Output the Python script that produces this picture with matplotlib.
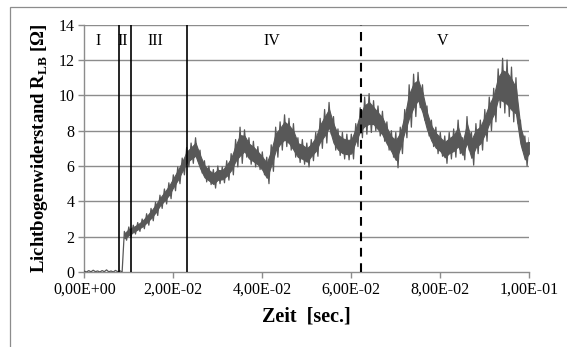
import numpy as np
import matplotlib.pyplot as plt
from matplotlib.patches import Rectangle

# resistance envelope, one value per millisecond
# (upper and lower edge of the noisy band)
r_hi = [0.05, 0.08, 0.10, 0.06, 0.08, 0.12, 0.06, 0.09, 0.07, 2.30,
        2.55, 2.65, 2.80, 3.00, 3.30, 3.60, 3.95, 4.35, 4.70, 5.05,
        5.50, 5.95, 6.45, 7.05, 7.30, 7.60, 6.90, 6.30, 6.00, 5.80,
        6.00, 5.95, 6.30, 6.70, 7.50, 8.20, 8.05, 7.60, 7.40, 7.10,
        6.80, 6.50, 7.20, 8.20, 8.50, 8.90, 8.70, 8.40, 7.60, 7.50,
        7.30, 7.50, 7.90, 8.70, 9.20, 9.60, 8.80, 8.10, 7.90, 7.80,
        7.80, 8.40, 9.30, 9.90, 10.10, 9.70, 9.40, 9.10, 8.50, 8.00,
        7.90, 8.20, 9.20, 10.60, 11.20, 11.30, 10.60, 9.40, 8.60, 8.20,
        7.90, 7.70, 7.90, 8.10, 8.60, 7.60, 8.80, 7.90, 8.40, 8.60,
        9.20, 9.90, 10.40, 11.50, 12.10, 12.00, 11.60, 11.00, 8.60, 7.70,
        7.60]
r_lo = [0.00, 0.01, 0.02, 0.00, 0.02, 0.01, 0.00, 0.02, 0.00, 1.80,
        1.95, 2.15, 2.30, 2.45, 2.65, 2.90, 3.20, 3.60, 3.85, 4.15,
        4.60, 5.00, 5.50, 5.95, 6.15, 6.30, 5.60, 5.10, 4.95, 4.75,
        5.00, 5.05, 5.20, 5.50, 5.95, 6.15, 6.50, 6.10, 5.95, 5.80,
        5.50, 5.00, 5.70, 6.50, 6.90, 7.10, 6.90, 6.50, 6.20, 6.10,
        5.95, 6.30, 6.55, 7.00, 7.30, 7.80, 6.90, 6.60, 6.40, 6.35,
        6.40, 7.10, 7.60, 7.80, 7.90, 8.00, 7.70, 7.40, 6.90, 6.50,
        5.90, 6.70, 7.60, 8.20, 8.80, 9.30, 8.60, 7.70, 7.10, 6.70,
        6.55, 6.15, 6.40, 6.50, 6.70, 6.35, 6.90, 6.05, 6.70, 6.90,
        7.40, 8.00, 8.50, 9.30, 9.00, 8.80, 8.50, 8.40, 6.90, 6.00,
        6.50]
dt = 0.001

# phase boundaries and labels
phase_lines = [0.0077, 0.0104, 0.0231]
dashed_line = 0.0621
phase_names = ['I', 'II', 'III', 'IV', 'V']
phase_pos = [0.0031, 0.0087, 0.0159, 0.0421, 0.0806]

xticks = [0.0, 0.02, 0.04, 0.06, 0.08, 0.10]
xticklabels = ['0,00E+00', '2,00E-02', '4,00E-02', '6,00E-02', '8,00E-02', '1,00E-01']
yticks = [0, 2, 4, 6, 8, 10, 12, 14]

# zig-zag between upper and lower edge
t_grid = np.arange(len(r_hi)) * dt
hi = np.array(r_hi)
lo = np.array(r_lo)
t = []
r = []
for i in range(len(r_hi)):
    t.append(i * dt)
    r.append(r_hi[i])
    t.append(i * dt + dt / 2)
    r.append(r_lo[i])
t = np.array(t[:-1])
r = np.array(r[:-1])

plt.rcParams['font.family'] = 'Liberation Serif'
plt.rcParams['mathtext.fontset'] = 'custom'
plt.rcParams['mathtext.rm'] = 'Liberation Serif:bold'

fig = plt.figure(figsize=(5.67, 3.47), dpi=100)
fig.patches.append(Rectangle((10 / 567, -0.1), 1.2, 1.1 - 7 / 347,
                             transform=fig.transFigure, fill=False,
                             edgecolor='#8c8c8c', lw=0.9))
ax = fig.add_axes([84.3 / 567, 1 - 272 / 347, 445 / 567, 247.3 / 347])

for y in yticks[1:]:
    ax.axhline(y, color='#8c8c8c', lw=1.0, zorder=1)

# solid core of the band, the zig-zag gives the spiky edges
band = t_grid >= 0.009
w = hi - lo
ax.fill_between(t_grid[band], (lo + 0.22 * w)[band], (hi - 0.22 * w)[band],
                color='#585858', lw=0.8, zorder=2)
ax.plot(t, r, color='#585858', lw=0.9, zorder=3)

for x in phase_lines:
    ax.axvline(x, color='black', lw=1.2, zorder=4)
ax.axvline(dashed_line, ymin=0, ymax=1, color='black', lw=1.5,
           linestyle=(0, (4.2, 3.2)), zorder=4)

for name, x in zip(phase_names, phase_pos):
    ax.text(x, 13.1, name, ha='center', va='center', fontsize=11.5)

ax.set_xlim(0, 0.1)
ax.set_ylim(0, 14)
ax.set_xticks(xticks)
ax.set_xticklabels(xticklabels, fontsize=11.5)
ax.set_yticks(yticks)
ax.set_yticklabels([str(v) for v in yticks], fontsize=11.5)
ax.tick_params(direction='out', length=4, color='#8c8c8c', width=1.0, pad=3)
for s in ['top', 'right']:
    ax.spines[s].set_visible(False)
for s in ['left', 'bottom']:
    ax.spines[s].set_color('#8c8c8c')
    ax.spines[s].set_linewidth(1.0)

ax.set_xlabel('Zeit  [sec.]', fontsize=14.5, fontweight='bold', labelpad=6)
ax.set_ylabel(r'Lichtbogenwiderstand R$_{\mathrm{LB}}$ [Ω]', fontsize=13.5,
              fontweight='bold', labelpad=6)

fig.savefig('out.png', dpi=100)
